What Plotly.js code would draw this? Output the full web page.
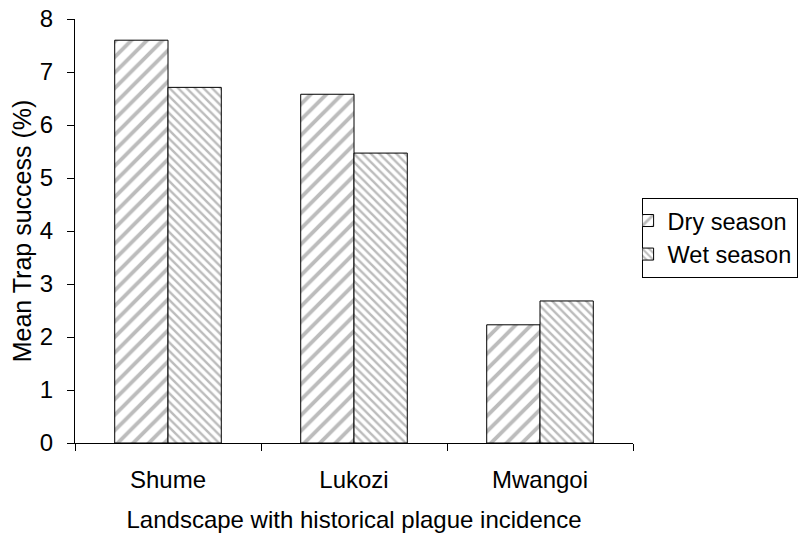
<!DOCTYPE html>
<html>
<head>
<meta charset="utf-8">
<script src="https://cdn.plot.ly/plotly-3.0.1.min.js"></script>
<style>html,body{margin:0;padding:0;background:#fff;}#chart{width:801px;height:533px;}</style>
</head>
<body>
<div id="chart"></div>
<script>
const categories = ["Shume", "Lukozi", "Mwangoi"];
const drySeason = [7.60, 6.58, 2.23];
const wetSeason = [6.71, 5.47, 2.68];
const yTicks = [0, 1, 2, 3, 4, 5, 6, 7, 8];

const font = {family: "Liberation Sans, Arial, sans-serif", size: 24, color: "#000"};

const traces = [
  {
    type: "bar", name: "Dry season", x: categories, y: drySeason,
    marker: {color: "#fff", line: {color: "#000", width: 1},
      pattern: {shape: "/", fgcolor: "#bcbcbc", bgcolor: "#fff", size: 11, solidity: 0.35}}
  },
  {
    type: "bar", name: "Wet season", x: categories, y: wetSeason,
    marker: {color: "#fff", line: {color: "#000", width: 1},
      pattern: {shape: "\\", fgcolor: "#bcbcbc", bgcolor: "#fff", size: 6, solidity: 0.4}}
  }
];

const layout = {
  width: 801, height: 533,
  margin: {l: 75, r: 168, t: 19, b: 90},
  paper_bgcolor: "#fff", plot_bgcolor: "#fff",
  font: font,
  barmode: "group", bargap: 0.427, bargroupgap: 0,
  showlegend: true,
  legend: {xref: "container", yref: "container", x: 0.801, y: 0.629, xanchor: "left", yanchor: "top",
    bordercolor: "#000", borderwidth: 1, bgcolor: "#fff",
    font: {family: font.family, size: 23.5, color: "#000"}, tracegroupgap: 0, itemwidth: 30, indentation: -15},
  xaxis: {
    type: "category", showline: true, linecolor: "#000", linewidth: 1,
    ticks: "outside", ticklen: 7, tickcolor: "#000", tickson: "boundaries",
    ticklabelstandoff: 15,
    showgrid: false, zeroline: false, tickfont: font,
    title: {text: "Landscape with historical plague incidence", font: font, standoff: 20}
  },
  yaxis: {
    range: [0, 8], tickvals: yTicks, showline: true, linecolor: "#000", linewidth: 1,
    ticks: "outside", ticklen: 7, tickcolor: "#000", ticklabelstandoff: 9,
    showgrid: false, zeroline: false, tickfont: font,
    title: {text: "Mean Trap success (%)", font: {family: font.family, size: 25, color: "#000"}, standoff: 1}
  }
};

Plotly.newPlot("chart", traces, layout, {displayModeBar: false, staticPlot: true});
</script>
</body>
</html>
